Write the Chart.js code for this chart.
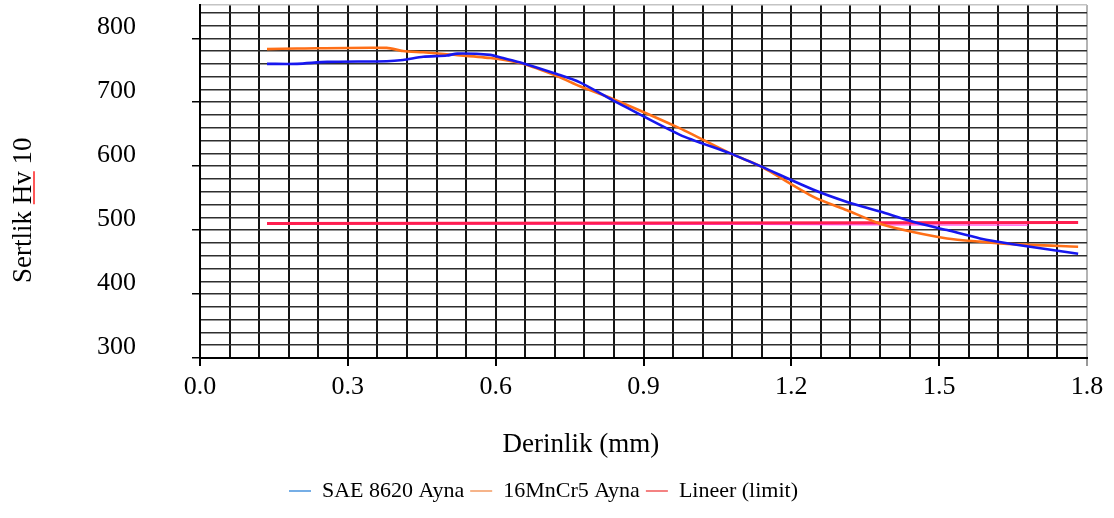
<!DOCTYPE html>
<html lang="tr">
<head>
<meta charset="UTF-8" />
<title>Sertlik - Derinlik</title>
<style>
  html, body { margin: 0; padding: 0; background: #fff; }
  canvas { display: block; }
</style>
</head>
<body>
<canvas id="hardnessChart" width="1114" height="518"></canvas>

<script src="https://cdn.jsdelivr.net/npm/chart.js@4.4.0/dist/chart.umd.min.js"></script>
<script>
  // values: depth in mm, hardness in Hv10
  const saeDepth    = [0.136, 0.197, 0.258, 0.379, 0.412, 0.453, 0.501, 0.522, 0.589, 0.615, 0.655, 0.724, 0.771,
                       0.838, 0.974, 1.076, 1.137, 1.245, 1.313, 1.380, 1.447, 1.516, 1.583, 1.650, 1.782];
  const saeHardness = [760, 760, 763, 764, 766, 771, 773, 776, 774, 769, 761, 744, 731,
                       703, 649, 620, 600, 563, 544, 529, 513, 500, 487, 478, 463];

  const mncrDepth    = [0.136, 0.197, 0.379, 0.412, 0.453, 0.501, 0.589, 0.655, 0.724, 0.771, 0.838,
                        0.974, 1.076, 1.137, 1.245, 1.313, 1.380, 1.447, 1.516, 1.583, 1.650, 1.782];
  const mncrHardness = [783, 784, 785, 780, 778, 775, 769, 760, 741, 725, 705,
                        659, 620, 600, 552, 531, 510, 497, 487, 482, 478, 474];

  const limitDepth    = [0.136, 1.11, 1.68];
  const limitHardness = [510.3, 508.8, 507.8];
  const trendDepth    = [0.136, 1.782];
  const trendHardness = [510.3, 511.9];

  const seriesLabels = ['SAE 8620 Ayna', '16MnCr5 Ayna', 'Lineer (limit)'];
  const lineColors   = ['#1717ee', '#ff6f17', '#ff1f4f', '#ff45e6'];
  const legendColors = ['#76aee6', '#f6b48a', '#f48282'];

  const xTickLabels = ['0.0', '0.3', '0.6', '0.9', '1.2', '1.5', '1.8'];
  const yTickLabels = [300, 400, 500, 600, 700, 800];
  const xTitle = 'Derinlik (mm)';
  const yTitle = 'Sertlik Hv 10';

  const serif = "'Liberation Serif', 'Times New Roman', serif";
  const xMajor = v => xTickLabels.some(t => Math.abs(parseFloat(t) - v) < 1e-6);
  const yMajor = v => yTickLabels.includes(v);
  const toPoints = (xs, ys) => xs.map((x, i) => ({ x, y: ys[i] }));

  // axis titles sit off-centre in the original, so they are drawn here
  const axisTitles = {
    id: 'axisTitles',
    afterDraw(chart) {
      const { ctx, chartArea, scales: { x, y } } = chart;
      ctx.save();
      ctx.fillStyle = '#000';
      ctx.font = '27px ' + serif;
      ctx.textAlign = 'center';
      ctx.textBaseline = 'alphabetic';
      ctx.fillText(xTitle, x.getPixelForValue(0.773), chartArea.bottom + 94);

      ctx.translate(31, y.getPixelForValue(531));
      ctx.rotate(-Math.PI / 2);
      ctx.fillText(yTitle, 0, 0);
      // red spell-check mark under "Hv"
      const total = ctx.measureText(yTitle).width;
      const start = -total / 2 + ctx.measureText('Sertlik ').width;
      const hv = ctx.measureText('Hv').width;
      ctx.strokeStyle = '#ff2020';
      ctx.lineWidth = 1.5;
      ctx.beginPath();
      ctx.moveTo(start, 3);
      ctx.lineTo(start + hv, 3);
      ctx.stroke();
      ctx.restore();
    }
  };

  const ctx = document.getElementById('hardnessChart').getContext('2d');
  new Chart(ctx, {
    type: 'scatter',
    data: {
      datasets: [
        { label: seriesLabels[0], data: toPoints(saeDepth, saeHardness), borderColor: lineColors[0], borderWidth: 2.6 },
        { label: seriesLabels[1], data: toPoints(mncrDepth, mncrHardness), borderColor: lineColors[1], borderWidth: 2.6 },
        { label: seriesLabels[2], data: toPoints(trendDepth, trendHardness), borderColor: lineColors[2], borderWidth: 3 },
        { label: 'limit', data: toPoints(limitDepth, limitHardness), borderColor: lineColors[3], borderWidth: 1.3 }
      ].map(d => Object.assign(d, { showLine: true, pointRadius: 0, tension: 0.25, backgroundColor: d.borderColor }))
    },
    options: {
      responsive: false,
      animation: false,
      devicePixelRatio: 1,
      layout: { padding: { left: 0, right: 27, top: 5, bottom: 6 } },
      plugins: {
        tooltip: { enabled: false },
        legend: {
          position: 'bottom',
          labels: {
            boxWidth: 22,
            boxHeight: 2,
            padding: 6,
            color: '#000',
            font: { family: serif, size: 22 },
            filter: item => item.datasetIndex < 3,
            generateLabels: chart => Chart.defaults.plugins.legend.labels.generateLabels(chart)
              .map((item, i) => Object.assign(item, {
                fillStyle: legendColors[i], strokeStyle: legendColors[i], lineWidth: 0
              }))
          }
        }
      },
      scales: {
        x: {
          type: 'linear',
          min: 0,
          max: 1.8,
          afterFit: s => { s.height = 116; s.paddingLeft = 0; s.paddingRight = 0; },
          border: { color: '#000', width: 2 },
          grid: {
            color: c => (c.tick && c.tick.value >= 1.8 - 1e-6) ? '#b4b4b4' : '#141414',
            lineWidth: 2,
            tickLength: 8,
            tickColor: c => xMajor(c.tick.value) ? (c.tick.value > 1.79 ? '#999' : '#000') : 'rgba(0,0,0,0)'
          },
          ticks: {
            stepSize: 0.06,
            autoSkip: false,
            maxRotation: 0,
            padding: 6,
            color: '#000',
            font: { family: serif, size: 26 },
            callback: v => xMajor(v) ? v.toFixed(1) : ''
          }
        },
        y: {
          min: 300,
          max: 852,
          afterBuildTicks: s => {
            const ticks = [];
            for (let v = 300; v <= 840; v += 20) ticks.push({ value: v });
            ticks.push({ value: 852 });
            s.ticks = ticks;
          },
          afterFit: s => { s.width = 200; s.paddingTop = 0; s.paddingBottom = 0; },
          border: { color: '#000', width: 2 },
          grid: {
            color: c => c.tick.value === 852 ? '#c4c4c4' : '#2e2e2e',
            lineWidth: 1.5,
            tickLength: 8,
            tickColor: c => yMajor(c.tick.value) ? '#000' : 'rgba(0,0,0,0)'
          },
          ticks: {
            autoSkip: false,
            padding: 56,
            labelOffset: -11,
            color: '#000',
            font: { family: serif, size: 26 },
            callback: v => yMajor(v) ? String(v) : ''
          }
        }
      }
    },
    plugins: [axisTitles]
  });
</script>
</body>
</html>
